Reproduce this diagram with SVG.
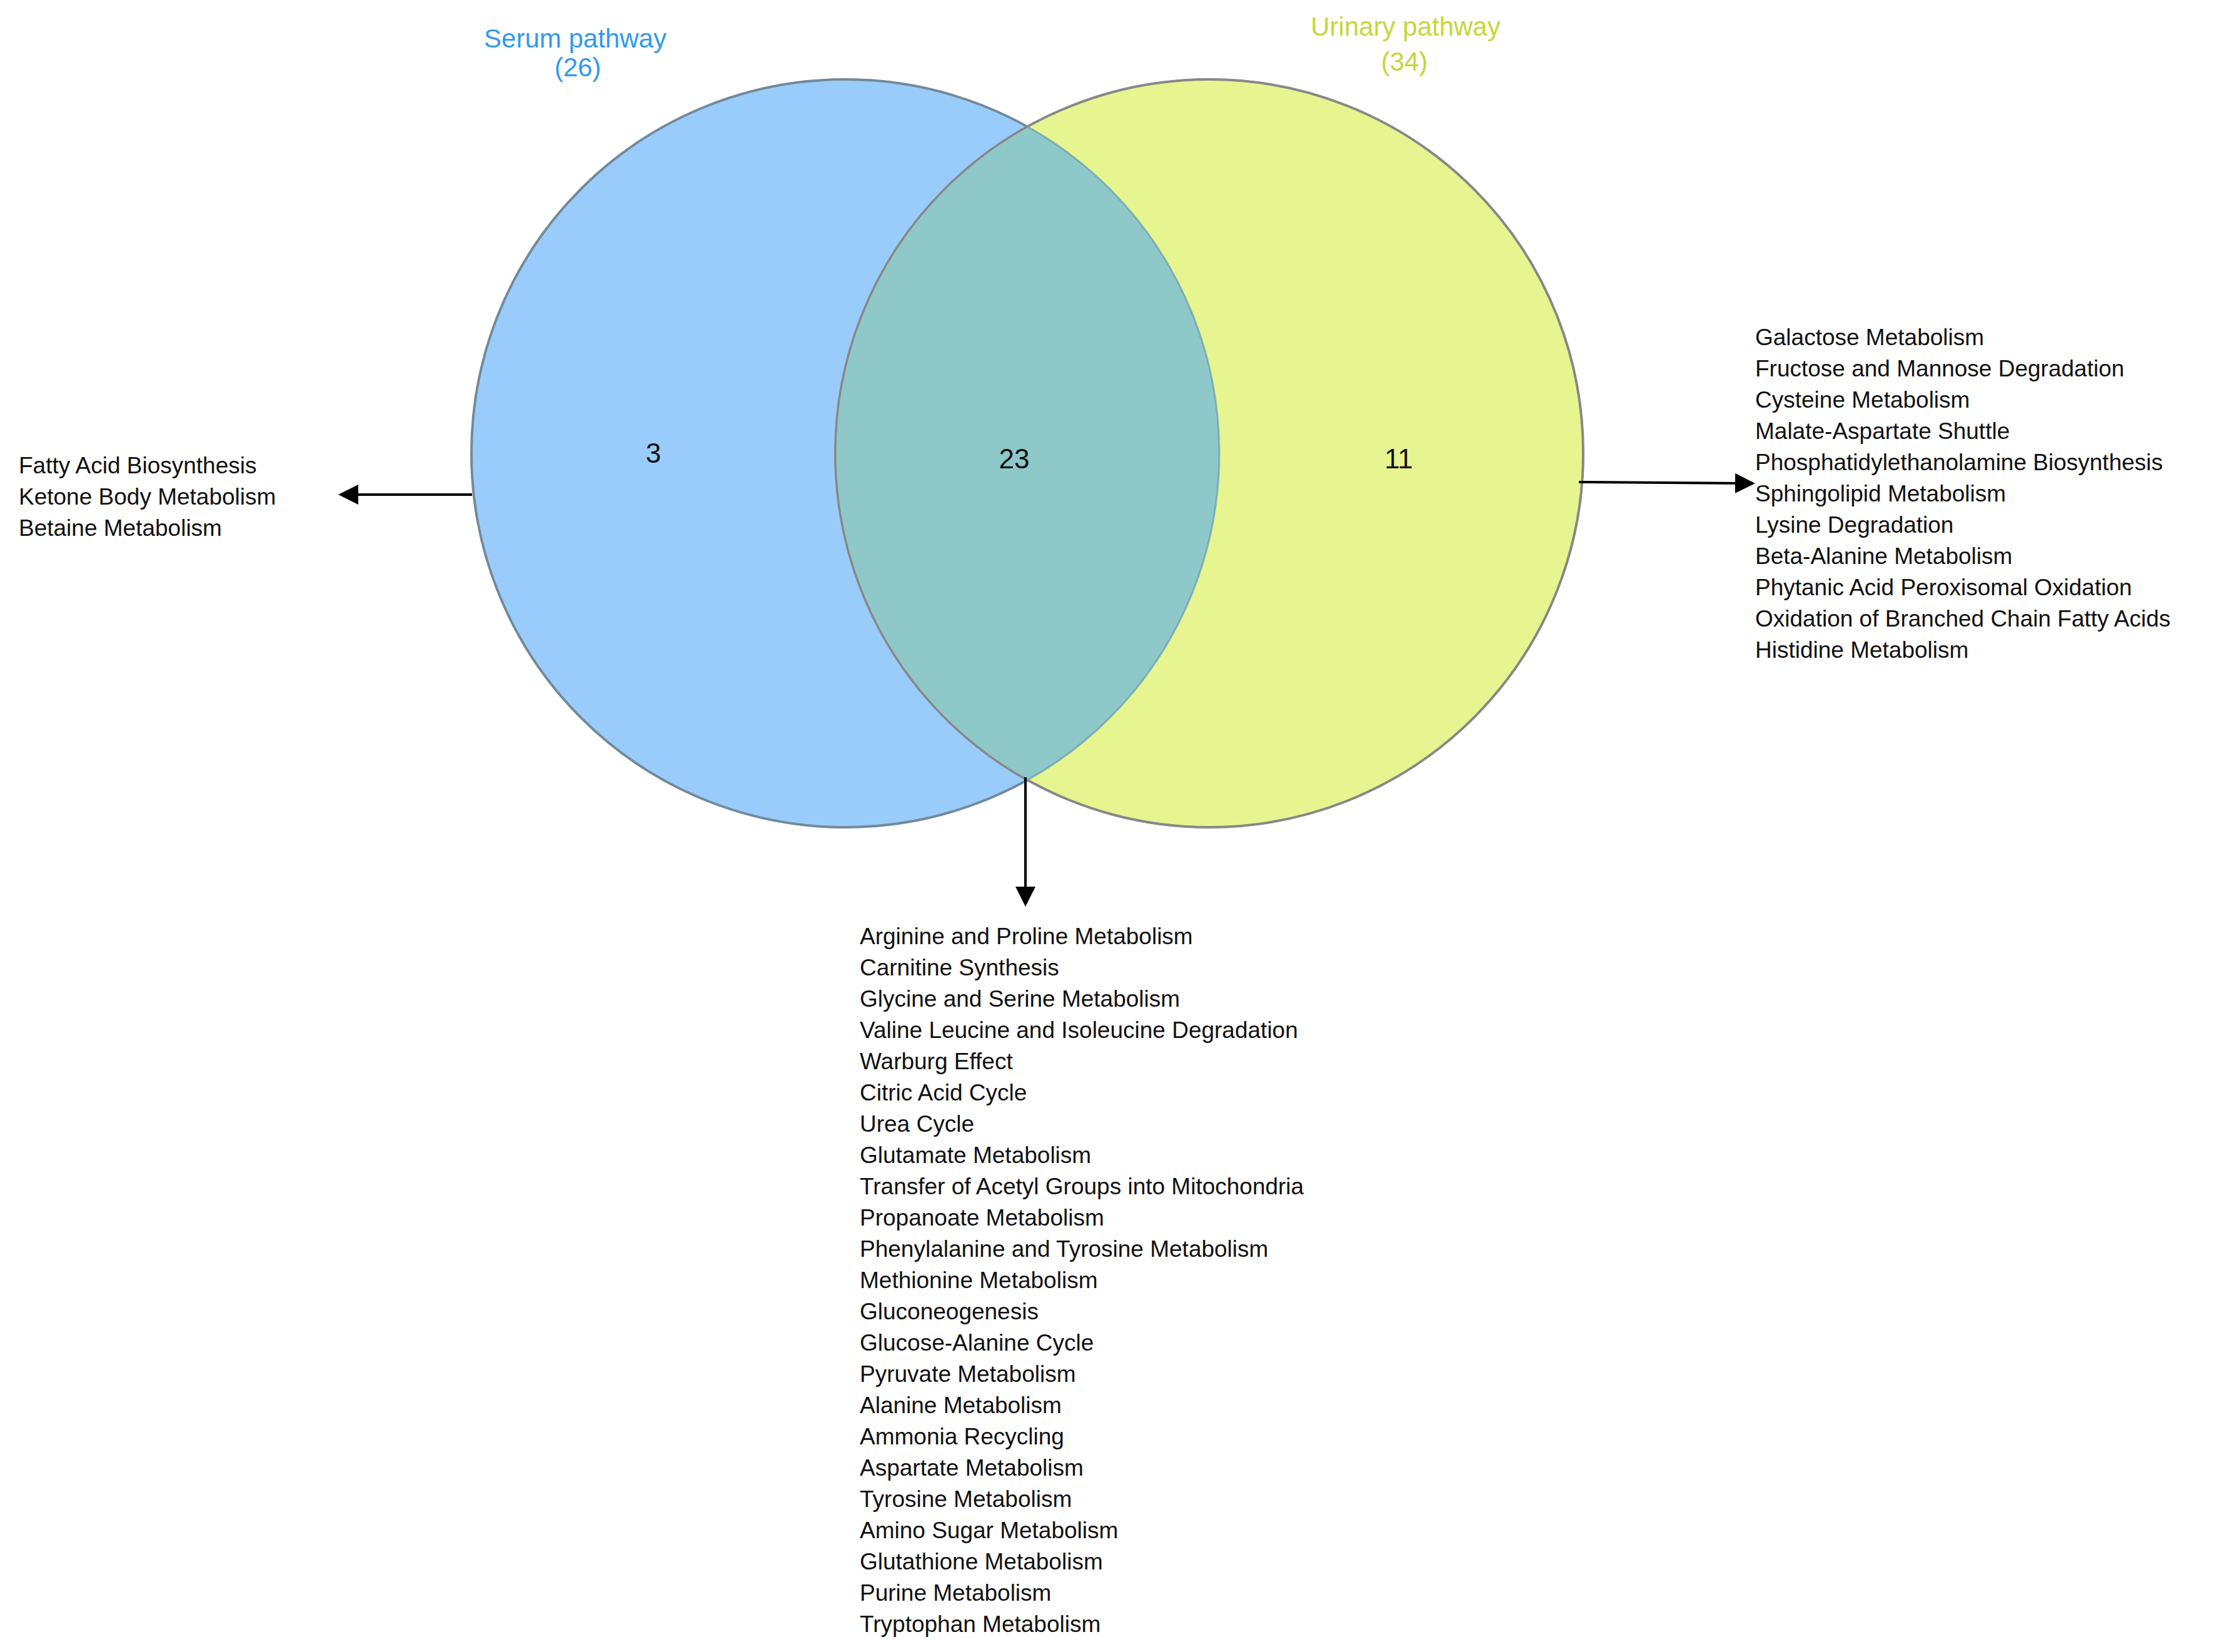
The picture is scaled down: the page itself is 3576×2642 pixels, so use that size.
<svg xmlns="http://www.w3.org/2000/svg" width="3576" height="2642" viewBox="0 0 3576 2642">
<style>
text{font-family:"Liberation Sans",Arial,sans-serif;fill:#111}
.l{font-size:37px}
.n{font-size:44px}
.c{stroke:#888;stroke-width:4}
.a{stroke:#000;stroke-width:4;fill:none;marker-end:url(#ah)}
</style>
<defs>
<marker id="ah" markerWidth="8" markerHeight="8" refX="7" refY="4" orient="auto" markerUnits="strokeWidth"><path d="M0,0L8,4L0,8z" fill="#000"/></marker>
<clipPath id="cl"><circle cx="1352" cy="725" r="598"/></clipPath>
</defs>
<g id="serum"><circle class="c" cx="1352" cy="725" r="598" fill="#99CCFB"/></g>
<g id="urinary"><circle class="c" cx="1934" cy="725" r="598" fill="#E6F590"/></g>
<g id="overlap"><circle cx="1934" cy="725" r="598" fill="#8FC8C8" clip-path="url(#cl)"/>
<circle cx="1352" cy="725" r="598" fill="none" stroke="#5a8fb0" stroke-width="3" opacity="0.6"/>
<circle cx="1934" cy="725" r="598" fill="none" stroke="#888" stroke-width="3"/></g>
<g id="titles" text-anchor="middle" style="font-size:42px">
<text x="920" y="76" style="fill:#3399EE">Serum pathway</text>
<text x="924" y="122" style="fill:#3399EE">(26)</text>
<text x="2248" y="57" style="fill:#C6D63A">Urinary pathway</text>
<text x="2246" y="113" style="fill:#C6D63A">(34)</text>
<text class="n" x="1045" y="740">3</text>
<text class="n" x="1622" y="749">23</text>
<text class="n" x="2237" y="749">11</text>
</g>
<g id="connectors">
<path class="a" d="M755,791H545"/>
<path class="a" d="M2525,771L2803,773"/>
<path class="a" d="M1640,1243V1446"/>
</g>
<g id="left-list" class="l">
<text x="30" y="757">Fatty Acid Biosynthesis</text>
<text x="30" y="807">Ketone Body Metabolism</text>
<text x="30" y="857">Betaine Metabolism</text>
</g>
<g id="right-list" class="l">
<text x="2807" y="552">Galactose Metabolism</text>
<text x="2807" y="602">Fructose and Mannose Degradation</text>
<text x="2807" y="652">Cysteine Metabolism</text>
<text x="2807" y="702">Malate-Aspartate Shuttle</text>
<text x="2807" y="752">Phosphatidylethanolamine Biosynthesis</text>
<text x="2807" y="802">Sphingolipid Metabolism</text>
<text x="2807" y="852">Lysine Degradation</text>
<text x="2807" y="902">Beta-Alanine Metabolism</text>
<text x="2807" y="952">Phytanic Acid Peroxisomal Oxidation</text>
<text x="2807" y="1002">Oxidation of Branched Chain Fatty Acids</text>
<text x="2807" y="1052">Histidine Metabolism</text>
</g>
<g id="bottom-list" class="l">
<text x="1375" y="1510">Arginine and Proline Metabolism</text>
<text x="1375" y="1560">Carnitine Synthesis</text>
<text x="1375" y="1610">Glycine and Serine Metabolism</text>
<text x="1375" y="1660">Valine Leucine and Isoleucine Degradation</text>
<text x="1375" y="1710">Warburg Effect</text>
<text x="1375" y="1760">Citric Acid Cycle</text>
<text x="1375" y="1810">Urea Cycle</text>
<text x="1375" y="1860">Glutamate Metabolism</text>
<text x="1375" y="1910">Transfer of Acetyl Groups into Mitochondria</text>
<text x="1375" y="1960">Propanoate Metabolism</text>
<text x="1375" y="2010">Phenylalanine and Tyrosine Metabolism</text>
<text x="1375" y="2060">Methionine Metabolism</text>
<text x="1375" y="2110">Gluconeogenesis</text>
<text x="1375" y="2160">Glucose-Alanine Cycle</text>
<text x="1375" y="2210">Pyruvate Metabolism</text>
<text x="1375" y="2260">Alanine Metabolism</text>
<text x="1375" y="2310">Ammonia Recycling</text>
<text x="1375" y="2360">Aspartate Metabolism</text>
<text x="1375" y="2410">Tyrosine Metabolism</text>
<text x="1375" y="2460">Amino Sugar Metabolism</text>
<text x="1375" y="2510">Glutathione Metabolism</text>
<text x="1375" y="2560">Purine Metabolism</text>
<text x="1375" y="2610">Tryptophan Metabolism</text>
</g>
</svg>
